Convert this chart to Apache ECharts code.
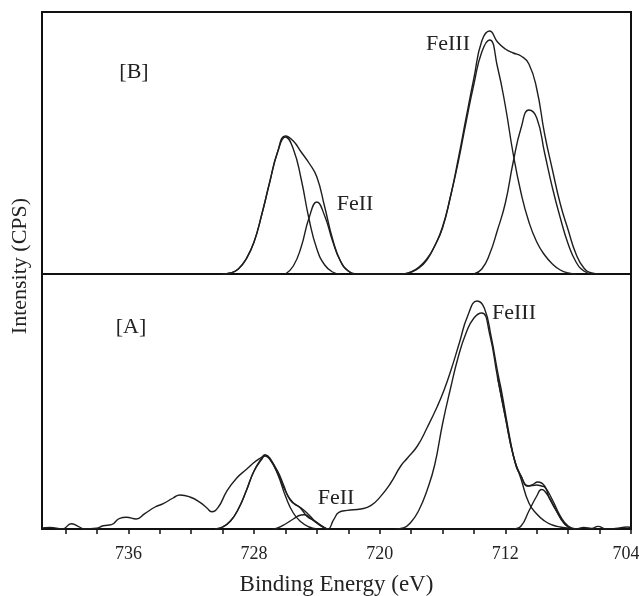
<!DOCTYPE html>
<html>
<head>
<meta charset="utf-8">
<script src="https://cdn.jsdelivr.net/npm/echarts@6/dist/echarts.min.js"></script>
<style>
  html, body { margin: 0; padding: 0; background: #fff; }
  #chart { width: 639px; height: 596px; }
</style>
</head>
<body>
<div id="chart"></div>
<script>
// binding energy axis (eV), drawn high -> low
const X_MIN = 704;
const X_MAX = 741.5;
const tickValues = [704, 706, 708, 710, 712, 714, 716, 718, 720, 722, 724, 726, 728, 730, 732, 734, 736, 738, 740];
const labelValues = [704, 712, 720, 728, 736];

// ---- panel [B] : [energy, intensity a.u.] ----
const bEnvelope = [
  [730, 0], [729.5, 1], [729, 5], [728.5, 15], [728, 32], [727.5, 60], [727, 92], [726.5, 122],
  [726, 138], [725.5, 133], [725, 122], [724.5, 111], [724, 97], [723.5, 67], [723, 35],
  [722.5, 13], [722, 3], [721.5, 0],
  [718.5, 0], [718, 2], [717.5, 6], [717, 14], [716.5, 28], [716, 46], [715.5, 77], [715, 115],
  [714.5, 156], [714, 196], [713.5, 233], [713, 243], [712.5, 232], [712, 225], [711.5, 221],
  [711, 218], [710.5, 210], [710, 185], [709.5, 140], [709, 104], [708.5, 70], [708, 44],
  [707.5, 20], [707, 6], [706.5, 1], [706, 0]
];
const bFe3Left = [
  [730, 0], [729.5, 1], [729, 5], [728.5, 15], [728, 32], [727.5, 60], [727, 92], [726.5, 122],
  [726, 137], [725.5, 125], [725, 95], [724.5, 55], [724, 25], [723.5, 9], [723, 2], [722.5, 0]
];
const bFe2 = [
  [726, 0], [725.5, 8], [725, 27], [724.5, 56], [724, 72], [723.5, 58], [723, 33],
  [722.5, 13], [722, 3], [721.5, 0]
];
const bFe3Main = [
  [718.5, 0], [718, 2], [717.5, 7], [717, 15], [716.5, 28], [716, 47], [715.5, 77], [715, 112],
  [714.5, 152], [714, 190], [713.5, 222], [713, 234], [712.5, 207], [712, 168], [711.5, 120],
  [711, 81], [710.5, 52], [710, 32], [709.5, 19], [709, 10], [708.5, 4], [708, 1], [707.5, 0]
];
const bFe3Side = [
  [714, 0], [713.5, 5], [713, 20], [712.5, 44], [712, 71], [711.5, 112], [711, 146], [710.5, 164],
  [710, 156], [709.5, 121], [709, 86], [708.5, 56], [708, 30], [707.5, 12], [707, 3], [706.5, 0]
];

// ---- panel [A] ----
const aRaw = [
  [741.5, 1], [741, 1.6], [740.2, 0], [739.64, 5.3], [739.2, 2.7], [738.8, 0], [738.04, 0.7],
  [737.6, 3.3], [737.08, 4.3], [736.55, 10.7], [736.13, 11.7], [735.5, 10], [734.96, 15.3],
  [734.3, 22], [733.78, 25.3], [733.15, 31], [732.72, 34], [732.08, 32], [731.44, 26.7],
  [731, 21], [730.7, 17.3], [730.27, 22], [729.74, 37.7], [729.1, 51], [728.46, 60],
  [728.04, 66], [727.5, 72], [727.3, 74], [727, 70], [726.5, 58], [726.12, 44], [725.7, 29],
  [725.05, 21], [724.62, 12.6], [724.1, 7.6], [723.56, 2], [723.3, 0], [722.93, 9.3],
  [722.6, 16.6], [722.07, 18.6], [721.2, 20], [720.57, 23.3], [719.94, 32.6], [719.3, 46],
  [718.66, 63], [718.23, 71], [717.6, 83], [716.96, 102], [716.32, 123], [715.9, 139],
  [715.46, 159], [714.93, 186], [714.4, 213], [713.8, 228], [713.34, 221], [712.9, 192],
  [712.48, 156], [712.27, 140], [711.63, 84], [711.3, 62], [711, 53], [710.6, 43], [710.3, 44],
  [709.93, 47], [709.5, 43], [709.18, 30], [708.55, 13], [708, 2], [707.5, 0], [707, 1.5],
  [706.5, 0.5], [706.1, 2.6], [705.6, 0], [705, 0.5], [704.2, 2], [704, 1]
];
const aFe3Left = [
  [730.5, 0], [730, 2], [729.5, 8], [729, 20], [728.5, 38], [728, 58], [727.5, 70], [727.3, 73],
  [727, 70], [726.5, 55], [726, 33], [725.5, 16], [725, 7], [724.5, 2], [724, 0]
];
const aFe2 = [
  [726.8, 0], [726.5, 1], [726, 5], [725.5, 10], [725, 14], [724.8, 14.3], [724.5, 12],
  [724, 6], [723.5, 1], [723.3, 0]
];
const aFitLeft = [
  [730.5, 0], [730, 2], [729.5, 8], [729, 20], [728.5, 38], [728, 58], [727.5, 71], [727.3, 74],
  [727, 71], [726.5, 56], [726, 38], [725.5, 26], [725, 21], [724.5, 14], [724, 6], [723.5, 1],
  [723.3, 0]
];
const aFe3Main = [
  [719, 0], [718.5, 1], [718, 7], [717.5, 19], [717, 38], [716.5, 64], [716, 105], [715.5, 140],
  [715, 172], [714.5, 196], [714, 211], [713.5, 216], [713, 195], [712.5, 152], [712, 112],
  [711.5, 74], [711, 50], [710.5, 26], [710, 15], [709.5, 8], [709, 4], [708.5, 2], [708, 1],
  [707.5, 0]
];
const aFe3Side = [
  [711.5, 0], [711, 3], [710.5, 18], [710, 33], [709.7, 39.5], [709.5, 38], [709, 26],
  [708.5, 11], [708, 2], [707.5, 0]
];
const aFitRight = [
  [712.5, 152], [712, 112], [711.5, 74], [711, 53], [710.5, 43], [710, 44], [709.7, 43],
  [709.5, 42], [709, 29], [708.5, 13], [708, 3], [707.5, 0]
];

const INK = '#1e1e1e';
const FONT = '"Liberation Serif", "DejaVu Serif", serif';

function curve(data, idx) {
  return {
    type: 'line',
    xAxisIndex: idx,
    yAxisIndex: idx,
    data: data,
    smooth: 0.5,
    symbol: 'none',
    silent: true,
    lineStyle: { color: INK, width: 1.4 }
  };
}

function label(text, x, y, extra) {
  return Object.assign({
    type: 'text',
    x: x,
    y: y,
    style: {
      text: text,
      font: '22px ' + FONT,
      fill: '#222',
      align: 'center',
      verticalAlign: 'middle'
    }
  }, extra || {});
}

const chart = echarts.init(document.getElementById('chart'));

const option = {
  animation: false,
  backgroundColor: '#fff',
  grid: [
    { left: 42, right: 8, top: 12, height: 262, show: true, borderColor: '#111', borderWidth: 2, outerBoundsMode: 'none' },
    { left: 42, right: 8, top: 274, height: 255, show: true, borderColor: '#111', borderWidth: 2, outerBoundsMode: 'none' }
  ],
  xAxis: [
    {
      gridIndex: 0, type: 'value', min: X_MIN, max: X_MAX, inverse: true,
      axisLine: { show: false }, axisTick: { show: false }, axisLabel: { show: false },
      splitLine: { show: false }
    },
    {
      gridIndex: 1, type: 'value', min: X_MIN, max: X_MAX, inverse: true,
      axisLine: { show: true, lineStyle: { color: '#111', width: 2 } },
      axisTick: { show: true, length: 5, customValues: tickValues, lineStyle: { color: '#111', width: 1.5 } },
      axisLabel: {
        show: true, customValues: labelValues, margin: 16,
        color: '#222', fontFamily: FONT, fontSize: 18,
        // last label sits against the right edge, nudge it left a little
        formatter: v => (v === X_MIN ? '{edge|' + v + '}' : String(v)),
        rich: { edge: { padding: [0, 10, 0, 0], color: '#222', fontFamily: FONT, fontSize: 18 } }
      },
      splitLine: { show: false },
      name: 'Binding Energy (eV)',
      nameLocation: 'middle',
      nameGap: 44,
      nameTextStyle: { color: '#222', fontFamily: FONT, fontSize: 23 }
    }
  ],
  yAxis: [
    { gridIndex: 0, type: 'value', min: 0, max: 262, show: false },
    { gridIndex: 1, type: 'value', min: 0, max: 255, show: false }
  ],
  series: [
    curve(bEnvelope, 0),
    curve(bFe3Left, 0),
    curve(bFe2, 0),
    curve(bFe3Main, 0),
    curve(bFe3Side, 0),
    curve(aRaw, 1),
    curve(aFe3Left, 1),
    curve(aFe2, 1),
    curve(aFitLeft, 1),
    curve(aFe3Main, 1),
    curve(aFe3Side, 1),
    curve(aFitRight, 1)
  ],
  graphic: [
    label('[B]', 134, 72),
    label('FeIII', 448, 44),
    label('FeII', 355, 204),
    label('[A]', 131, 327),
    label('FeIII', 514, 313),
    label('FeII', 336, 498),
    label('Intensity (CPS)', 20, 266, { rotation: Math.PI / 2 })
  ]
};

chart.setOption(option);
</script>
</body>
</html>
